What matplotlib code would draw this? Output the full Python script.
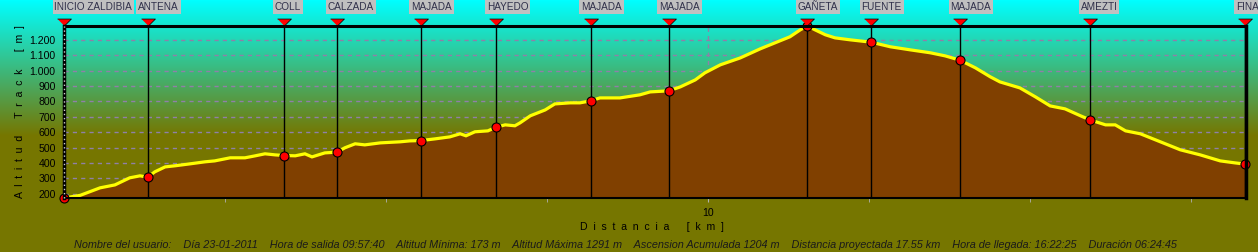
import numpy as np
import matplotlib
matplotlib.use("Agg")
from matplotlib import pyplot as plt
from matplotlib.ticker import FixedLocator, FuncFormatter

# elevation profile (km, m)
dist_km = [0.00, 0.25, 0.56, 0.79, 1.02, 1.18, 1.30, 1.41, 1.57, 1.72, 1.96, 2.19,
           2.34, 2.58, 2.81, 2.97, 3.12, 3.28, 3.42, 3.59, 3.74, 3.85, 4.05, 4.24,
           4.36, 4.52, 4.67, 4.91, 5.22, 5.37, 5.54, 5.76, 5.99, 6.15, 6.24, 6.38,
           6.58, 6.71, 6.85, 7.00, 7.08, 7.24, 7.47, 7.62, 7.86, 8.01, 8.18, 8.32,
           8.63, 8.94, 9.10, 9.39, 9.57, 9.80, 9.95, 10.19, 10.50, 10.81, 11.04,
           11.27, 11.43, 11.54, 11.66, 11.82, 11.97, 12.21, 12.53, 12.83, 13.14,
           13.45, 13.68, 13.91, 14.15, 14.38, 14.53, 14.84, 15.08, 15.31, 15.54,
           15.78, 15.93, 16.17, 16.32, 16.48, 16.71, 17.02, 17.33, 17.64, 17.95,
           18.18, 18.34]
alt_m = [173, 190, 239, 258, 304, 317, 308, 343, 375, 382, 395, 408,
         414, 434, 434, 447, 460, 453, 449, 447, 460, 440, 466, 471,
         499, 525, 518, 531, 538, 544, 546, 557, 570, 590, 577, 603,
         609, 633, 648, 642, 661, 707, 745, 784, 791, 791, 804, 823,
         823, 843, 862, 869, 895, 940, 986, 1038, 1083, 1142, 1181,
         1220, 1265, 1291, 1265, 1233, 1213, 1200, 1185, 1155, 1135,
         1116, 1096, 1068, 1018, 960, 927, 888, 830, 771, 752,
         707, 680, 648, 648, 609, 590, 538, 486, 453, 414,
         401, 393]

# waypoints
wp_names = ["INICIO ZALDIBIA", "ANTENA", "COLL", "CALZADA", "MAJADA", "HAYEDO",
            "MAJADA", "MAJADA", "GAÑETA", "FUENTE", "MAJADA", "AMEZTI", "FINAL"]
wp_km = [0.00, 1.30, 3.42, 4.24, 5.54, 6.71, 8.18, 9.39, 11.54, 12.53, 13.91, 15.93, 18.34]
wp_alt = [173, 308, 449, 471, 546, 633, 804, 869, 1291, 1185, 1068, 680, 393]

y_ticks = [200, 300, 400, 500, 600, 700, 800, 900, 1000, 1100, 1200]
x_minor = [2.5, 5.0, 7.5, 10.0, 12.5, 15.0, 17.5]
x_major = [10]

info = ("Nombre del usuario:    Día 23-01-2011    Hora de salida 09:57:40    "
        "Altitud Mínima: 173 m    Altitud Máxima 1291 m    Ascension Acumulada 1204 m    "
        "Distancia proyectada 17.55 km    Hora de llegada: 16:22:25    Duración 06:24:45")

plt.rcParams["font.family"] = ["Liberation Sans", "DejaVu Sans"]

W, H = 1258, 252
fig = plt.figure(figsize=(W / 100, H / 100), dpi=100)

# background gradient: cyan at top -> olive from ~y=135px down
bg = fig.add_axes([0, 0, 1, 1])
rows = np.arange(H)
t = np.clip(rows / 135.0, 0, 1)[:, None]
top = np.array([0, 255, 255]) / 255
bot = np.array([118, 118, 0]) / 255
grad = (top * (1 - t) + bot * t)[:, None, :]
grad = np.repeat(grad, 4, axis=1)
bg.imshow(grad, aspect="auto", extent=[0, 1, 0, 1], origin="upper")
bg.axis("off")

ax = fig.add_axes([64 / W, 1 - 198 / H, 1182 / W, 172.3 / H])
ax.patch.set_alpha(0)
ax.set_xlim(0, 18.35)
ax.set_ylim(173, 1292)

ax.fill_between(dist_km, alt_m, 173, color="#804000", zorder=2, lw=0)
ax.plot(dist_km, alt_m, color="#ffff00", lw=2.3, zorder=3, solid_joinstyle="miter")

# grid
for v in y_ticks:
    ax.axhline(v, color="#8f80a8", lw=1, ls=(0, (3, 3)), zorder=1)
ax.axvline(10, color="#8f80a8", lw=1, ls=(0, (3, 3)), zorder=1)

# waypoint lines, dots, markers, labels
tri = [(-1, 0.5), (1, 0.5), (0, -0.5)]
for name, k, a in zip(wp_names, wp_km, wp_alt):
    ax.axvline(k, color="black", lw=1, zorder=4)
    ax.plot(k, a, "o", ms=6.5, mfc="#ff0000", mec="black", mew=0.8, zorder=6, clip_on=False)
    ax.plot(k, 1.023, marker=tri, ms=10, mfc="#ff0000", mec="black", mew=0.5,
            transform=ax.get_xaxis_transform(), clip_on=False, zorder=7)
    ax.annotate(name, xy=(k, 1), xycoords=("data", "axes fraction"),
                xytext=(-9.5, 14), textcoords="offset pixels", fontsize=7.2,
                color="#30304a", ha="left", va="bottom", annotation_clip=False,
                bbox=dict(boxstyle="square,pad=0.2", fc="#c0c0c0", ec="none"))

# spines
for s in ax.spines.values():
    s.set_color("black")
    s.set_zorder(8)
ax.spines["top"].set_linewidth(2.2)
ax.spines["right"].set_linewidth(2.5)
ax.spines["bottom"].set_linewidth(1.5)
ax.spines["left"].set_linewidth(2.5)
ax.axvline(0, color="#d0d0d0", lw=1, ls=(0, (1, 2)), zorder=9, clip_on=False)

ax.yaxis.set_major_locator(FixedLocator(y_ticks))
ax.yaxis.set_major_formatter(FuncFormatter(lambda v, p: f"{int(v):,}".replace(",", ".")))
ax.tick_params(axis="y", length=0, pad=6, labelsize=7.6, labelcolor="black")

ax.xaxis.set_major_locator(FixedLocator(x_major))
ax.xaxis.set_minor_locator(FixedLocator(x_minor))
ax.tick_params(axis="x", which="both", length=3, color="#b0b0b0", pad=4,
               labelsize=7.6, labelcolor="black")

ax.set_xlabel("D  i  s  t  a  n  c  i  a      [  k  m  ]", fontsize=7.6, va="center")
ax.xaxis.set_label_coords(0.497, -(227 - 198) / 172.3)
ax.set_ylabel("A  l  t  i  t  u  d      T  r  a  c  k      [  m  ]", fontsize=7.6,
              va="center")
ax.yaxis.set_label_coords(-44 / 1182, 0.5)

fig.text(625 / W, 1 - 245 / H, info, ha="center", va="center", fontsize=7.85,
         style="italic", color="#1a1a1a")

fig.savefig("out.png", dpi=100)
